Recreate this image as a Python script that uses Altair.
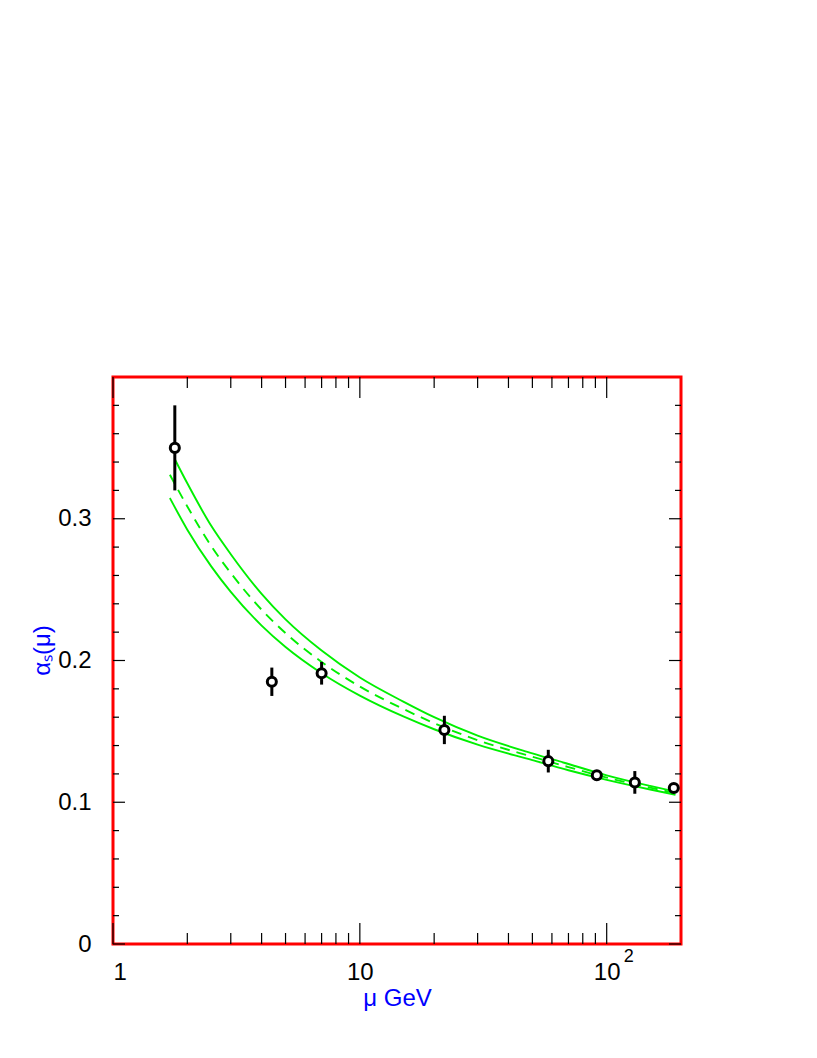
import altair as alt
import pandas as pd

# ---- measured data points ----
mu_pts = [1.78, 4.4, 7.0, 22.0, 58.0, 91.2, 130.0, 187.0]
alpha_pts = [0.350, 0.185, 0.191, 0.151, 0.129, 0.119, 0.114, 0.110]
alpha_err = [0.030, 0.010, 0.008, 0.010, 0.008, 0.002, 0.008, 0.002]

# ---- band curves ----
mu_upper = [1.78, 2, 2.5, 3, 4, 5, 7, 10, 15, 20, 30, 50, 70, 100, 150, 190]
alpha_upper = [0.342, 0.325, 0.295, 0.275, 0.247, 0.229, 0.207, 0.188, 0.171,
               0.160, 0.147, 0.1345, 0.127, 0.119, 0.1115, 0.1075]

mu_lower = [1.7, 2, 2.5, 3, 4, 5, 7, 10, 15, 20, 30, 50, 70, 100, 150, 190]
alpha_lower = [0.3146, 0.2923, 0.2664, 0.2484, 0.2246, 0.2095, 0.191, 0.1752,
               0.1605, 0.1515, 0.1406, 0.1297, 0.1226, 0.1158, 0.109, 0.1053]

mu_central = [1.7, 2, 2.5, 3, 4, 5, 7, 10, 15, 20, 30, 50, 70, 100, 150, 190]
alpha_central = [0.331, 0.3087, 0.2807, 0.2617, 0.2358, 0.2193, 0.199, 0.1816,
                 0.1658, 0.1558, 0.1438, 0.1321, 0.1248, 0.1174, 0.1103, 0.1064]

# ---- axis ticks ----
x_major_ticks = [1, 10, 100]
x_minor_ticks = [2, 3, 4, 5, 6, 7, 8, 9, 20, 30, 40, 50, 60, 70, 80, 90]
y_major_ticks = [0, 0.1, 0.2, 0.3]
y_minor_ticks = [0.02, 0.04, 0.06, 0.08, 0.12, 0.14, 0.16, 0.18, 0.22, 0.24,
                 0.26, 0.28, 0.32, 0.34, 0.36, 0.38]

W, H = 568, 567
FONT = "Liberation Sans"
GREEN = "#00f000"

xscale = alt.Scale(type="log", domain=[1, 200], nice=False)
yscale = alt.Scale(domain=[0, 0.4], nice=False, zero=False)

x_axis = alt.Axis(
    values=x_major_ticks, labelExpr="datum.value >= 100 ? '10' : datum.label",
    ticks=False, tickSize=0, domain=False, grid=False,
    labelFont=FONT, labelFontSize=24, labelColor="black", labelPadding=16,
    title="μ GeV", titleFont=FONT, titleFontSize=24, titleFontWeight="normal",
    titleColor="#0000ff", titleY=42, titleBaseline="top",
)
y_axis = alt.Axis(
    values=y_major_ticks, format=".1~f",
    ticks=False, tickSize=0, domain=False, grid=False,
    labelFont=FONT, labelFontSize=24, labelColor="black", labelPadding=22,
    title="αₛ(μ)", titleFont=FONT, titleFontSize=24, titleFontWeight="normal",
    titleColor="#0000ff", titleX=-71, titleY=273, titleBaseline="middle",
    titleAlign="center", titleAngle=270,
)

X = alt.X("mu:Q", scale=xscale, axis=x_axis, title="μ GeV")
Y = alt.Y("alpha:Q", scale=yscale, axis=y_axis, title="αₛ(μ)")

df_up = pd.DataFrame({"mu": mu_upper, "alpha": alpha_upper})
df_lo = pd.DataFrame({"mu": mu_lower, "alpha": alpha_lower})
df_c = pd.DataFrame({"mu": mu_central, "alpha": alpha_central})
df_pts = pd.DataFrame({
    "mu": mu_pts, "alpha": alpha_pts,
    "lo": [a - e for a, e in zip(alpha_pts, alpha_err)],
    "hi": [a + e for a, e in zip(alpha_pts, alpha_err)],
})

upper = alt.Chart(df_up).mark_line(color=GREEN, strokeWidth=1.9, interpolate="monotone").encode(x=X, y=Y)
lower = alt.Chart(df_lo).mark_line(color=GREEN, strokeWidth=1.9, interpolate="monotone").encode(x=X, y=Y)
central = alt.Chart(df_c).mark_line(color=GREEN, strokeWidth=1.9, strokeDash=[10, 7],
                                    interpolate="monotone").encode(x=X, y=Y)
errbars = alt.Chart(df_pts).mark_rule(color="black", strokeWidth=3).encode(
    x=X,
    y=alt.Y("lo:Q", scale=yscale, axis=y_axis, title="αₛ(μ)"),
    y2="hi:Q",
)
points = alt.Chart(df_pts).mark_point(shape="circle", filled=True, fill="white",
                                      stroke="black", strokeWidth=3, size=82,
                                      opacity=1).encode(x=X, y=Y)


def xticks(vals, y0, y1):
    return alt.Chart(pd.DataFrame({"mu": vals})).mark_rule(color="black", strokeWidth=1.2).encode(
        x=X, y=alt.value(y0), y2=alt.value(y1))


def yticks(vals, x0, x1):
    return alt.Chart(pd.DataFrame({"alpha": vals})).mark_rule(color="black", strokeWidth=1.2).encode(
        y=Y, x=alt.value(x0), x2=alt.value(x1))


ticks = [
    xticks(x_major_ticks, H, H - 21), xticks(x_minor_ticks, H, H - 11),
    xticks(x_major_ticks, 0, 21), xticks(x_minor_ticks, 0, 11),
    yticks(y_major_ticks, 0, 12), yticks(y_minor_ticks, 0, 6),
    yticks(y_major_ticks, W, W - 12), yticks(y_minor_ticks, W, W - 6),
]

sup = alt.Chart(pd.DataFrame({"mu": [100]})).mark_text(
    text="2", align="left", baseline="top", dx=17, fontSize=18, font=FONT, color="black"
).encode(x=X, y=alt.value(H + 4))

chart = alt.layer(upper, lower, central, errbars, points, *ticks, sup).properties(
    width=W, height=H,
    autosize=alt.AutoSizeParams(type="none"),
    padding={"left": 105, "top": 369, "right": 30, "bottom": 70},
    background="white",
).configure_view(stroke="#ff0000", strokeWidth=3)

chart.save("out.html", embed_options={"renderer": "svg", "actions": False})
